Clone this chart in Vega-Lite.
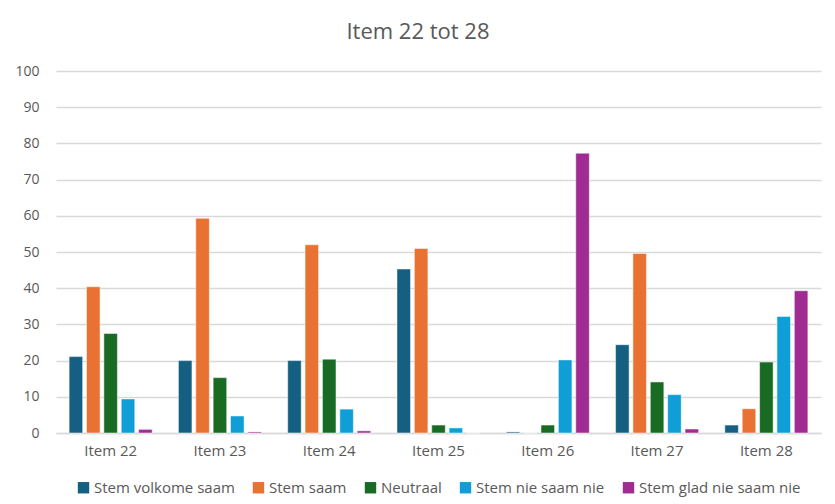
{
  "$schema": "https://vega.github.io/schema/vega-lite/v6.json",
  "width": 835,
  "height": 504,
  "autosize": {"type": "fit", "contains": "padding"},
  "padding": {"left": 14, "top": 21, "right": 14, "bottom": 8},
  "background": "white",
  "title": {"text": "Item 22 tot 28", "fontSize": 22, "font": "Open Sans", "fontWeight": "normal", "color": "#595959", "offset": 20, "anchor": "middle", "frame": "bounds"},
  "data": {"values": [
    {"item": "Item 22", "s": "Stem volkome saam", "v": 21.1},
    {"item": "Item 22", "s": "Stem saam", "v": 40.4},
    {"item": "Item 22", "s": "Neutraal", "v": 27.5},
    {"item": "Item 22", "s": "Stem nie saam nie", "v": 9.4},
    {"item": "Item 22", "s": "Stem glad nie saam nie", "v": 1.0},
    {"item": "Item 23", "s": "Stem volkome saam", "v": 20.0},
    {"item": "Item 23", "s": "Stem saam", "v": 59.3},
    {"item": "Item 23", "s": "Neutraal", "v": 15.3},
    {"item": "Item 23", "s": "Stem nie saam nie", "v": 4.7},
    {"item": "Item 23", "s": "Stem glad nie saam nie", "v": 0.3},
    {"item": "Item 24", "s": "Stem volkome saam", "v": 20.0},
    {"item": "Item 24", "s": "Stem saam", "v": 52.0},
    {"item": "Item 24", "s": "Neutraal", "v": 20.4},
    {"item": "Item 24", "s": "Stem nie saam nie", "v": 6.6},
    {"item": "Item 24", "s": "Stem glad nie saam nie", "v": 0.6},
    {"item": "Item 25", "s": "Stem volkome saam", "v": 45.3},
    {"item": "Item 25", "s": "Stem saam", "v": 51.0},
    {"item": "Item 25", "s": "Neutraal", "v": 2.2},
    {"item": "Item 25", "s": "Stem nie saam nie", "v": 1.4},
    {"item": "Item 25", "s": "Stem glad nie saam nie", "v": 0},
    {"item": "Item 26", "s": "Stem volkome saam", "v": 0.3},
    {"item": "Item 26", "s": "Stem saam", "v": 0},
    {"item": "Item 26", "s": "Neutraal", "v": 2.2},
    {"item": "Item 26", "s": "Stem nie saam nie", "v": 20.2},
    {"item": "Item 26", "s": "Stem glad nie saam nie", "v": 77.3},
    {"item": "Item 27", "s": "Stem volkome saam", "v": 24.4},
    {"item": "Item 27", "s": "Stem saam", "v": 49.6},
    {"item": "Item 27", "s": "Neutraal", "v": 14.1},
    {"item": "Item 27", "s": "Stem nie saam nie", "v": 10.6},
    {"item": "Item 27", "s": "Stem glad nie saam nie", "v": 1.1},
    {"item": "Item 28", "s": "Stem volkome saam", "v": 2.2},
    {"item": "Item 28", "s": "Stem saam", "v": 6.7},
    {"item": "Item 28", "s": "Neutraal", "v": 19.6},
    {"item": "Item 28", "s": "Stem nie saam nie", "v": 32.2},
    {"item": "Item 28", "s": "Stem glad nie saam nie", "v": 39.3}
  ]},
  "mark": {"type": "bar", "stroke": "white", "strokeWidth": 0.5},
  "encoding": {
    "x": {"field": "item", "type": "nominal", "title": null,
      "scale": {"paddingInner": 0.24, "paddingOuter": 0.12},
      "axis": {"labelAngle": 0, "ticks": false, "domainColor": "#d9d9d9", "domainWidth": 1.5, "labelFontSize": 15, "labelFont": "Open Sans", "labelColor": "#595959", "labelPadding": 10}},
    "xOffset": {"field": "s", "type": "nominal", "sort": ["Stem volkome saam", "Stem saam", "Neutraal", "Stem nie saam nie", "Stem glad nie saam nie"], "scale": {"paddingInner": 0.22}},
    "y": {"field": "v", "type": "quantitative", "title": null,
      "scale": {"domain": [0, 100]},
      "axis": {"values": [0,10,20,30,40,50,60,70,80,90,100], "labelOverlap": false, "domain": false, "ticks": false, "gridColor": "#d9d9d9", "gridWidth": 1.5, "labelFontSize": 14, "labelFont": "Open Sans", "labelColor": "#595959", "labelPadding": 17}},
    "color": {"field": "s", "type": "nominal", "title": null,
      "sort": ["Stem volkome saam", "Stem saam", "Neutraal", "Stem nie saam nie", "Stem glad nie saam nie"],
      "scale": {"domain": ["Stem volkome saam", "Stem saam", "Neutraal", "Stem nie saam nie", "Stem glad nie saam nie"], "range": ["#156082", "#E97132", "#196B24", "#0F9ED5", "#A02B93"]},
      "legend": {"orient": "bottom", "direction": "horizontal", "symbolType": "square", "symbolSize": 130, "symbolStrokeWidth": 0, "labelFontSize": 15, "labelFont": "Open Sans", "labelColor": "#595959", "labelLimit": 400, "columnPadding": 16, "offset": 22, "labelOffset": 3}}
  },
  "config": {"view": {"stroke": null}, "legend": {"layout": {"bottom": {"anchor": "middle"}}}}
}
